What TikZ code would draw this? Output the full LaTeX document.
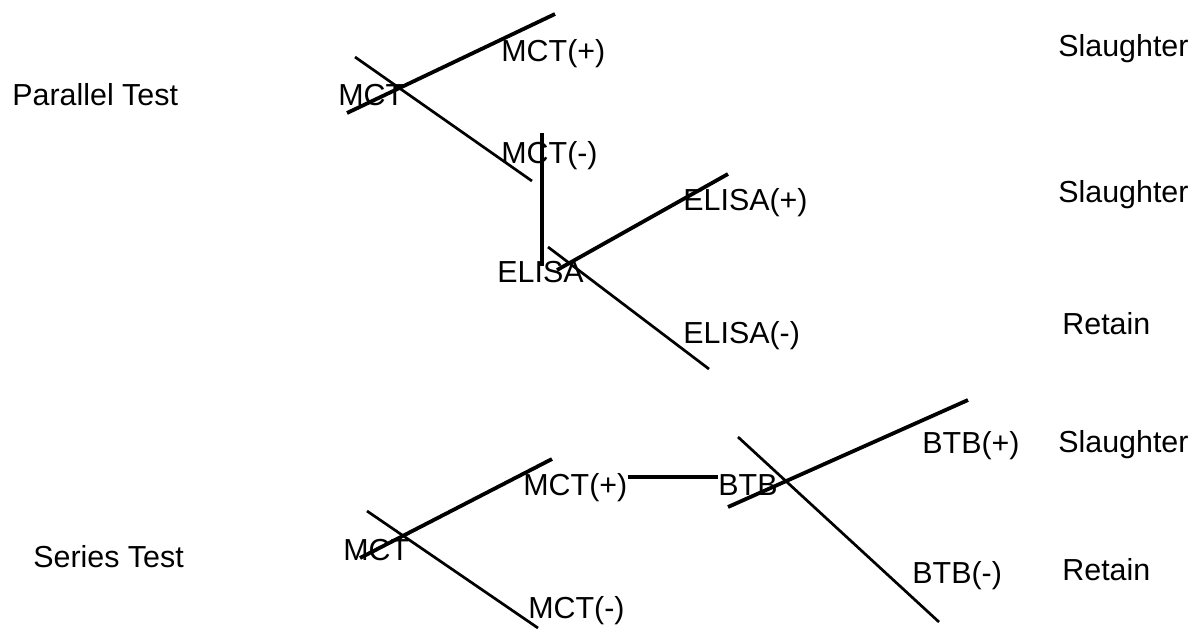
\documentclass[tikz,border=0pt]{standalone}
\usepackage{fontspec}
\setmainfont{Liberation Sans}
\begin{document}
\begin{tikzpicture}[x=0.5pt,y=-0.5pt,
  lbl/.style={anchor=base west,inner sep=0pt,font=\fontsize{15.2}{18}\selectfont},
  upbr/.style={line width=1.9pt},
  dnbr/.style={line width=1.35pt},
  linkline/.style={line width=1.6pt}]
\useasboundingbox (0,0) rectangle (1201,629);
% ---------- Parallel test ----------
\node[lbl] (ptitle) at (12,105) {Parallel Test};
\node[lbl] (pmct) at (338,105) {MCT};
\node[lbl] (pmctp) at (501,61) {MCT(+)};
\node[lbl] (pmctn) at (501,163) {MCT(-)};
\node[lbl] (pelisa) at (497,282) {ELISA};
\node[lbl] (pelisap) at (683,210) {ELISA(+)};
\node[lbl] (pelisan) at (683,343) {ELISA(-)};
\node[lbl] (pout1) at (1058,56) {Slaughter};
\node[lbl] (pout2) at (1058,202) {Slaughter};
\node[lbl] (pout3) at (1062,334) {Retain};
\coordinate (a1) at (347,113);
\coordinate (a2) at (555,14);
\coordinate (b1) at (355,57);
\coordinate (b2) at (532,181);
\coordinate (v1) at (542,133);
\coordinate (v2) at (542,266);
\coordinate (c1) at (557,270);
\coordinate (c2) at (728,174);
\coordinate (d1) at (548,247);
\coordinate (d2) at (709,369);
\draw[upbr] (a1) -- (a2);
\draw[dnbr] (b1) -- (b2);
\draw[linkline] (v1) -- (v2);
\draw[upbr] (c1) -- (c2);
\draw[dnbr] (d1) -- (d2);
% ---------- Series test ----------
\node[lbl] (stitle) at (33,567) {Series Test};
\node[lbl] (smct) at (343,560) {MCT};
\node[lbl] (smctp) at (523,495) {MCT(+)};
\node[lbl] (smctn) at (528,618) {MCT(-)};
\node[lbl] (sbtb) at (718,495) {BTB};
\node[lbl] (sbtbp) at (922,453) {BTB(+)};
\node[lbl] (sbtbn) at (912,583) {BTB(-)};
\node[lbl] (sout1) at (1058,452) {Slaughter};
\node[lbl] (sout2) at (1062,580) {Retain};
\coordinate (e1) at (360,558);
\coordinate (e2) at (552,459);
\coordinate (f1) at (367,511);
\coordinate (f2) at (538,628);
\coordinate (g1) at (728,507);
\coordinate (g2) at (968,400);
\coordinate (h1) at (738,437);
\coordinate (h2) at (939,622);
\draw[upbr] (e1) -- (e2);
\draw[dnbr] (f1) -- (f2);
\draw[linkline] (smctp.east |- 0,477) -- (sbtb.west |- 0,477);
\draw[upbr] (g1) -- (g2);
\draw[dnbr] (h1) -- (h2);
\end{tikzpicture}
\end{document}
